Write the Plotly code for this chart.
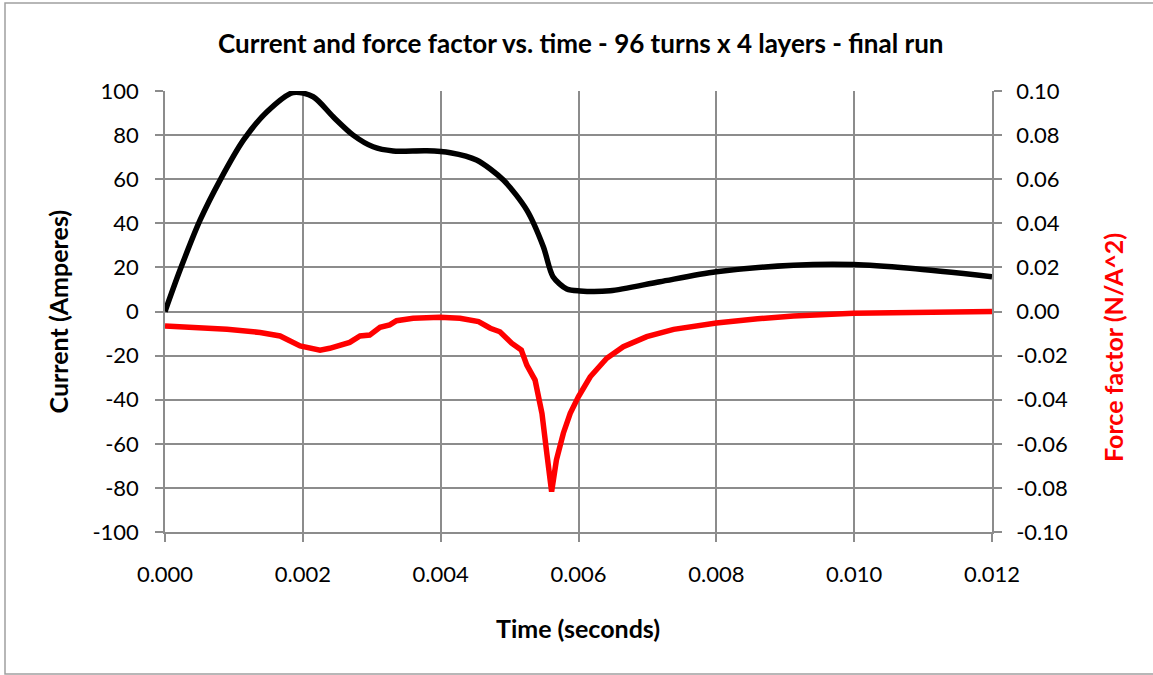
import plotly.graph_objects as go

# ---- data ----
time_current = [0.0, 0.000218, 0.00051, 0.0008, 0.00114, 0.00148, 0.00186, 0.00215,
                0.00244, 0.00273, 0.00302, 0.00331, 0.0038, 0.00414, 0.00452, 0.00491,
                0.00525, 0.00549, 0.00563, 0.00583, 0.00602, 0.00646, 0.00718, 0.0080,
                0.00912, 0.00999, 0.01081, 0.012]
current_amps = [0.0, 18.8, 41.5, 59.6, 77.8, 90.6, 99.3, 97.4,
                88.3, 80.0, 74.7, 72.8, 72.9, 72.0, 68.7, 59.6,
                46.0, 29.4, 15.8, 10.2, 9.3, 9.4, 13.5, 18.0,
                21.0, 21.3, 19.6, 15.8]

time_force = [0.0, 0.00041, 0.0009, 0.00138, 0.00167, 0.00196, 0.00225, 0.00239,
              0.00254, 0.00268, 0.00283, 0.00297, 0.00312, 0.00326, 0.00336, 0.0036,
              0.00399, 0.00428, 0.00455, 0.00472, 0.00486, 0.00503, 0.00517, 0.00525,
              0.00537, 0.00547, 0.00554, 0.00561, 0.00568, 0.00578, 0.00588, 0.0060,
              0.00617, 0.00641, 0.00665, 0.00699, 0.00738, 0.0080, 0.00860, 0.00912,
              0.00999, 0.0108, 0.012]
force_factor = [-0.0066, -0.0072, -0.0081, -0.0095, -0.0111, -0.0156, -0.0175, -0.0167,
                -0.0156, -0.0140, -0.0111, -0.0107, -0.0072, -0.0061, -0.0042, -0.0031,
                -0.0026, -0.0031, -0.0046, -0.0076, -0.0092, -0.0144, -0.0175, -0.0243,
                -0.0311, -0.0462, -0.0643, -0.0817, -0.0673, -0.0552, -0.0462, -0.0386,
                -0.0296, -0.0212, -0.0160, -0.0114, -0.0081, -0.0052, -0.0033, -0.0020,
                -0.0008, -0.0003, 0.0]

x_ticks = [0.000, 0.002, 0.004, 0.006, 0.008, 0.010, 0.012]
x_tick_text = ["0.000", "0.002", "0.004", "0.006", "0.008", "0.010", "0.012"]
y_ticks = [-100, -80, -60, -40, -20, 0, 20, 40, 60, 80, 100]
y_tick_text = ["-100", "-80", "-60", "-40", "-20", "0", "20", "40", "60", "80", "100"]
y2_ticks = [-0.10, -0.08, -0.06, -0.04, -0.02, 0.00, 0.02, 0.04, 0.06, 0.08, 0.10]
y2_tick_text = ["-0.10", "-0.08", "-0.06", "-0.04", "-0.02", "0.00",
                "0.02", "0.04", "0.06", "0.08", "0.10"]

title_text = "Current and force factor vs. time - 96 turns x 4 layers - final run"
x_title = "Time (seconds)"
y_title = "Current (Amperes)"
y2_title = "Force factor (N/A^2)"

GRID = "#8c8c8c"
FONT = "Lato"

fig = go.Figure()
fig.add_trace(go.Scatter(x=time_current, y=current_amps, mode="lines",
                         line=dict(color="#000000", width=5.5, shape="spline", smoothing=0.8),
                         name="Current", yaxis="y"))
fig.add_trace(go.Scatter(x=time_force, y=force_factor, mode="lines",
                         line=dict(color="#ff0000", width=5.5),
                         name="Force factor", yaxis="y2"))

axis_common = dict(showline=True, linecolor=GRID, linewidth=1.5,
                   ticks="outside", ticklen=8, tickwidth=1.5, tickcolor=GRID,
                   tickfont=dict(family=FONT, size=22, color="#000000"),
                   zeroline=False)

fig.update_layout(
    width=1153, height=675,
    margin=dict(l=165, r=161, t=91, b=143),
    paper_bgcolor="white", plot_bgcolor="white",
    showlegend=False,
    font=dict(family=FONT, color="#000000"),
    xaxis=dict(range=[0, 0.012], tickvals=x_ticks, ticktext=x_tick_text,
               showgrid=True, gridcolor=GRID, gridwidth=1.5,
               ticklabelstandoff=14, **axis_common),
    yaxis=dict(range=[-100, 100], tickvals=y_ticks, ticktext=y_tick_text,
               showgrid=True, gridcolor=GRID, gridwidth=1.5,
               ticklabelstandoff=12, **axis_common),
    yaxis2=dict(range=[-0.1, 0.1], tickvals=y2_ticks, ticktext=y2_tick_text,
                overlaying="y", side="right", showgrid=False,
                ticklabelstandoff=10, **axis_common),
)

fig.add_annotation(text="<b>" + title_text + "</b>", xref="paper", yref="paper",
                   x=0.503, y=1.1088, xanchor="center", yanchor="middle", showarrow=False,
                   font=dict(family=FONT, size=26, color="#000000"))
fig.add_annotation(text="<b>" + x_title + "</b>", xref="paper", yref="paper",
                   x=0.4994, y=-0.2177, xanchor="center", yanchor="middle", showarrow=False,
                   font=dict(family=FONT, size=25, color="#000000"))
fig.add_annotation(text="<b>" + y_title + "</b>", xref="paper", yref="paper",
                   x=-0.1294, y=0.5, xanchor="center", yanchor="middle", showarrow=False,
                   textangle=-90, font=dict(family=FONT, size=25, color="#000000"))
fig.add_annotation(text="<b>" + y2_title + "</b>", xref="paper", yref="paper",
                   x=1.1463, y=0.4195, xanchor="center", yanchor="middle", showarrow=False,
                   textangle=-90, font=dict(family=FONT, size=25, color="#ff0000"))

# outer chart border
fig.add_shape(type="rect", xref="paper", yref="paper",
              x0=(5 - 165) / 827, x1=(1156 - 165) / 827,
              y0=(532 - 674) / 441, y1=(532 - 3) / 441,
              line=dict(color="#a0a0a0", width=1.5), layer="below")

fig.write_html("out.html", config={"displayModeBar": False},
               post_script="document.body.style.margin='0';document.body.style.overflow='hidden';")
